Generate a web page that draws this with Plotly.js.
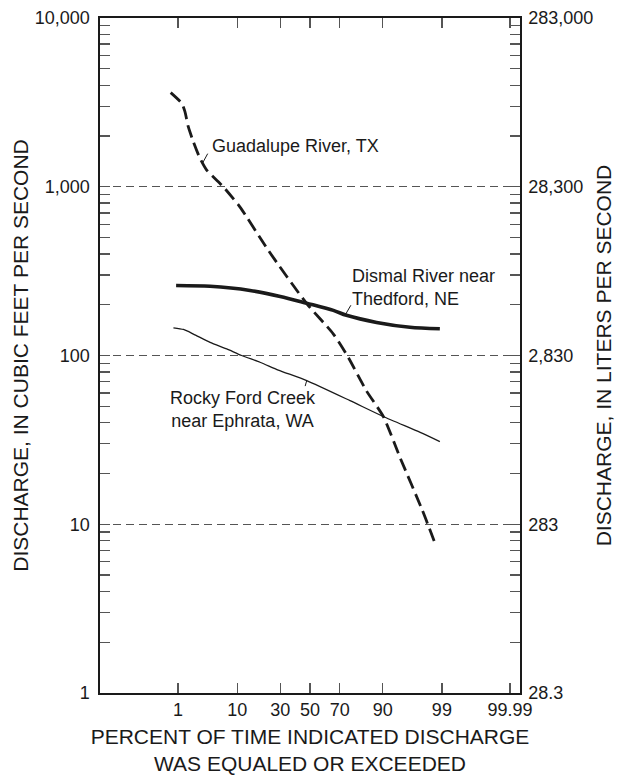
<!DOCTYPE html>
<html>
<head>
<meta charset="utf-8">
<script src="https://cdn.plot.ly/plotly-3.0.1.min.js"></script>
<style>html,body{margin:0;padding:0;background:#fff;}#chart{width:628px;height:779px;}</style>
</head>
<body>
<div id="chart"></div>
<script>
// ---- data (percent of time exceeded, discharge in cubic feet per second) ----
const guadalupePct = [0.7, 1.18, 1.37, 1.59, 1.98, 2.62, 3.42, 5.3, 6.3, 10.8, 23.1, 47.7, 66, 75, 84, 90.2, 94.4, 97.6, 98.7];
const guadalupeQ   = [3614, 3126, 2786, 2268, 1849, 1472, 1255, 1070, 1000, 760, 420, 203, 134, 97.5, 61.8, 43.5, 24.8, 12.2, 7.4];

const dismalPct = [0.91, 3.9, 14.5, 30, 47.7, 66, 74, 88, 96.1, 98.9];
const dismalQ   = [260, 257, 243, 224, 204, 185, 173, 157, 147, 144];

const rockyPct = [0.8, 1.28, 1.99, 3.9, 7.1, 11.4, 18.9, 28.8, 47.7, 76, 90.2, 97.4, 98.9];
const rockyQ   = [146, 142.6, 134, 119.7, 109.4, 100, 91.2, 82, 71, 54, 43.5, 35, 30.9];

const xTickPct    = [1, 10, 30, 50, 70, 90, 99, 99.99];
const xTickText   = ['1', '10', '30', '50', '70', '90', '99', '99.99'];
const yTickVals   = [1, 10, 100, 1000, 10000];
const yTickText   = ['1', '10', '100', '1,000', '10,000'];
const y2TickText  = ['28.3', '283', '2,830', '28,300', '283,000'];

// ---- probability (normal) scale: percent -> standard normal deviate ----
function probit(p) {
  const a = [-3.969683028665376e+01, 2.209460984245205e+02, -2.759285104469687e+02, 1.383577518672690e+02, -3.066479806614716e+01, 2.506628277459239e+00];
  const b = [-5.447609879822406e+01, 1.615858368580409e+02, -1.556989798598866e+02, 6.680131188771972e+01, -1.328068155288572e+01];
  const c = [-7.784894002430293e-03, -3.223964580411365e-01, -2.400758277161838e+00, -2.549732539343734e+00, 4.374664141464968e+00, 2.938163982698783e+00];
  const d = [7.784695709041462e-03, 3.224671290700398e-01, 2.445134137142996e+00, 3.754408661907416e+00];
  const plow = 0.02425;
  let q, r;
  if (p < plow) {
    q = Math.sqrt(-2 * Math.log(p));
    return (((((c[0]*q+c[1])*q+c[2])*q+c[3])*q+c[4])*q+c[5]) / ((((d[0]*q+d[1])*q+d[2])*q+d[3])*q+1);
  } else if (p <= 1 - plow) {
    q = p - 0.5; r = q*q;
    return (((((a[0]*r+a[1])*r+a[2])*r+a[3])*r+a[4])*r+a[5])*q / (((((b[0]*r+b[1])*r+b[2])*r+b[3])*r+b[4])*r+1);
  } else {
    q = Math.sqrt(-2 * Math.log(1 - p));
    return -(((((c[0]*q+c[1])*q+c[2])*q+c[3])*q+c[4])*q+c[5]) / ((((d[0]*q+d[1])*q+d[2])*q+d[3])*q+1);
  }
}
const toZ = arr => arr.map(v => probit(v / 100));
const X_MAX = 3.704;
// the original sheet squeezes its last (99.99) tick just inside the frame
const xTickVals = toZ(xTickPct).map(z => Math.min(z, X_MAX - 0.175));

const FONT = 'Liberation Sans, Arial, Helvetica, sans-serif';
const INK = '#1a1a1a';

const traces = [
  { x: toZ(guadalupePct), y: guadalupeQ, type: 'scatter', mode: 'lines', name: 'Guadalupe River, TX',
    line: { color: INK, width: 2.8, dash: '13px,6px', shape: 'spline', smoothing: 0.6 } },
  { x: toZ(dismalPct), y: dismalQ, type: 'scatter', mode: 'lines', name: 'Dismal River near Thedford, NE',
    line: { color: INK, width: 3.6, shape: 'spline', smoothing: 0.8 } },
  { x: toZ(rockyPct), y: rockyQ, type: 'scatter', mode: 'lines', name: 'Rocky Ford Creek near Ephrata, WA',
    line: { color: INK, width: 1.3, shape: 'spline', smoothing: 0.6 } },
  // invisible trace to activate the right-hand (metric) axis
  { x: [0], y: [100], yaxis: 'y2', type: 'scatter', mode: 'markers', marker: { opacity: 0 },
    hoverinfo: 'skip', showlegend: false }
];

const minorVals = [];
for (let e = 0; e < 4; e++) for (let m = 2; m <= 9; m++) minorVals.push(m * Math.pow(10, e));

const yCommon = {
  type: 'log', range: [0, 4], showline: true, linecolor: INK, linewidth: 1.6,
  ticks: 'inside', ticklen: 10, tickwidth: 1.3, tickcolor: '#555',
  tickvals: yTickVals, tickfont: { family: FONT, size: 18, color: INK },
  minor: { tickvals: minorVals, ticks: 'inside', ticklen: 10, tickwidth: 1.3, tickcolor: '#555', showgrid: false },
  zeroline: false, fixedrange: true
};

const layout = {
  width: 628, height: 779,
  margin: { l: 100, r: 108, t: 18, b: 86 },
  paper_bgcolor: '#fff', plot_bgcolor: '#fff',
  showlegend: false,
  font: { family: FONT, color: INK },
  xaxis: {
    range: [-X_MAX, X_MAX], showline: true, linecolor: INK, linewidth: 1.6, mirror: 'ticks',
    ticks: 'inside', ticklen: 10, tickwidth: 1.3, tickcolor: '#555',
    tickvals: xTickVals, ticktext: xTickText, tickfont: { family: FONT, size: 18, color: INK },
    showgrid: false, zeroline: false, fixedrange: true,
    title: { text: 'PERCENT OF TIME INDICATED DISCHARGE<br>WAS EQUALED OR EXCEEDED',
             font: { family: FONT, size: 21, color: INK }, standoff: 10 }
  },
  yaxis: Object.assign({}, yCommon, {
    ticktext: yTickText, side: 'left', ticklabelstandoff: 5,
    showgrid: true, gridcolor: '#555', gridwidth: 1.3, griddash: '8px,5px',
    title: { text: 'DISCHARGE, IN CUBIC FEET PER SECOND', font: { family: FONT, size: 21, color: INK }, standoff: 0 }
  }),
  yaxis2: Object.assign({}, yCommon, {
    ticktext: y2TickText, side: 'right', overlaying: 'y', showgrid: false, ticklabelstandoff: 3,
    title: { text: 'DISCHARGE, IN LITERS PER SECOND', font: { family: FONT, size: 21, color: INK }, standoff: 4 }
  }),
  annotations: [
    { xref: 'x', yref: 'y', x: probit(0.029), y: Math.log10(1380), ax: 6, ay: -11, axref: 'pixel', ayref: 'pixel',
      showarrow: true, arrowhead: 0, arrowwidth: 1, arrowcolor: INK, standoff: 0,
      text: '', },
    { xref: 'x', yref: 'y', x: probit(0.029), y: Math.log10(1380), xshift: 7, yshift: 17,
      xanchor: 'left', yanchor: 'middle', showarrow: false,
      text: 'Guadalupe River, TX', font: { family: FONT, size: 18, color: INK } },

    { xref: 'x', yref: 'y', x: probit(0.73), y: Math.log10(172), ax: 7, ay: -12, axref: 'pixel', ayref: 'pixel',
      showarrow: true, arrowhead: 0, arrowwidth: 1, arrowcolor: INK, standoff: 0, text: '' },
    { xref: 'x', yref: 'y', x: probit(0.73), y: Math.log10(172), xshift: 5, yshift: 28,
      xanchor: 'left', yanchor: 'middle', showarrow: false, align: 'left',
      text: 'Dismal River near<br>Thedford, NE', font: { family: FONT, size: 18, color: INK } },

    { xref: 'x', yref: 'y', x: probit(0.477), y: Math.log10(71), ax: -2, ay: 7, axref: 'pixel', ayref: 'pixel',
      showarrow: true, arrowhead: 0, arrowwidth: 1, arrowcolor: INK, standoff: 0, text: '' },
    { xref: 'x', yref: 'y', x: probit(0.477), y: Math.log10(71), xshift: -64, yshift: -29,
      xanchor: 'center', yanchor: 'middle', showarrow: false, align: 'center',
      text: 'Rocky Ford Creek<br>near Ephrata, WA', font: { family: FONT, size: 18, color: INK } }
  ]
};

Plotly.newPlot('chart', traces, layout, { staticPlot: true, displayModeBar: false });
</script>
</body>
</html>
